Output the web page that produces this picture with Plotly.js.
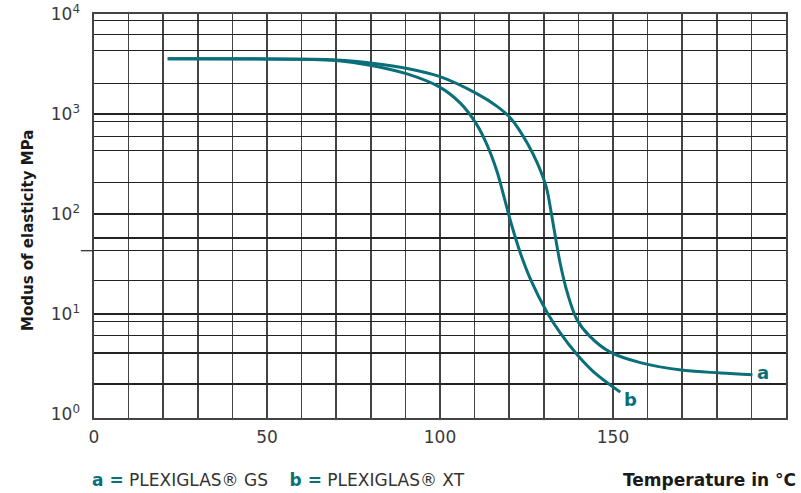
<!DOCTYPE html>
<html>
<head>
<meta charset="utf-8">
<script src="https://cdn.plot.ly/plotly-3.0.1.min.js"></script>
<style>html,body{margin:0;padding:0;background:#fff;}#chart{width:801px;height:493px;}</style>
</head>
<body>
<div id="chart"></div>
<script>
// Curve a = PLEXIGLAS GS
const tempA = [21.3, 60.4, 70, 81, 90.5, 99.8, 110.5, 116.5, 120.6, 125.2, 128.1, 130.7, 132.1, 133, 134.7, 136.8, 139.6, 143.4, 149.2, 157.9, 170.3, 181, 190.3];
const modA  = [3597, 3548, 3491, 3221, 2871, 2388, 1614, 1197, 897, 516, 326, 187.5, 105.4, 69.7, 32.6, 16.3, 8.77, 5.93, 4.15, 3.26, 2.73, 2.57, 2.47];
// Curve b = PLEXIGLAS XT
const tempB = [21.3, 60.4, 70, 81, 90.5, 99.8, 105.8, 110.5, 113.6, 116.5, 118.5, 120.6, 123.2, 126.1, 131, 134.7, 139.6, 144.3, 152.1];
const modB  = [3597, 3548, 3451, 3041, 2529, 1875, 1297, 800, 493, 265, 149, 80, 41, 22.5, 10.3, 6.5, 3.92, 2.65, 1.65];

// Horizontal grid lines (as drawn in the original)
const yGridVals = [1.99, 4.07, 6.11, 8.38, 10, 21.6, 43, 57.5, 100, 208, 432, 597, 843, 1000, 2042, 4325, 6252, 8630, 10000];
const yLabelVals = [1, 10, 100, 1000, 10000];
const yLabelText = ['10<sup>0</sup>', '10<sup>1</sup>', '10<sup>2</sup>', '10<sup>3</sup>', '10<sup>4</sup>'];
const xLabelVals = [0, 50, 100, 150, 200];

const teal = '#0b6f79';
const FONT = '"DejaVu Sans", Verdana, sans-serif';
const lineStyle = {color: teal, width: 3, shape: 'spline', smoothing: 1};
const yRange = [-0.0415, 4.003];

const traces = [
  {x: tempA, y: modA, mode: 'lines', line: lineStyle, hoverinfo: 'skip', showlegend: false},
  {x: tempB, y: modB, mode: 'lines', line: lineStyle, hoverinfo: 'skip', showlegend: false},
  {x: [], y: [], yaxis: 'y2', mode: 'lines', hoverinfo: 'skip', showlegend: false}
];

const layout = {
  width: 801, height: 493,
  margin: {l: 94, r: 15, t: 14, b: 75, pad: 0},
  paper_bgcolor: '#fff', plot_bgcolor: '#fff',
  font: {family: FONT, color: '#333'},
  showlegend: false,
  xaxis: {
    range: [0, 200], tickvals: xLabelVals, ticktext: xLabelVals.map(String),
    showgrid: true, gridcolor: '#444', gridwidth: 1.6,
    minor: {dtick: 10, showgrid: true, gridcolor: '#444', gridwidth: 1.6, ticks: ''},
    ticks: '', showline: true, linecolor: '#444', linewidth: 2, mirror: true,
    zeroline: false, tickfont: {size: 17, color: '#3a3a3a', family: FONT}, ticklabelstandoff: 3
  },
  yaxis: {
    type: 'log', range: yRange,
    tickvals: yGridVals, showticklabels: false,
    showgrid: true, gridcolor: '#222', gridwidth: 1.4,
    ticks: '', showline: true, linecolor: '#444', linewidth: 2, mirror: true,
    zeroline: false
  },
  yaxis2: {
    type: 'log', range: yRange, overlaying: 'y', side: 'left',
    tickvals: yLabelVals, ticktext: yLabelText,
    showgrid: false, showline: false, zeroline: false, ticks: '',
    tickfont: {size: 17, color: '#3a3a3a', family: FONT}, ticklabelstandoff: 13
  },
  shapes: [
    {type: 'line', xref: 'paper', yref: 'y', x0: -0.019, x1: 0, y0: 43, y1: 43, line: {color: '#333', width: 1.3}}
  ],
  annotations: [
    {x: 193.4, y: Math.log10(2.57), xref: 'x', yref: 'y', text: '<b>a</b>', showarrow: false,
     font: {size: 18, color: teal, family: FONT}, xanchor: 'center', yanchor: 'middle'},
    {x: 155, y: Math.log10(1.39), xref: 'x', yref: 'y', text: '<b>b</b>', showarrow: false,
     font: {size: 18, color: teal, family: FONT}, xanchor: 'center', yanchor: 'middle'},
    {x: 0, y: 0.5, xref: 'paper', yref: 'paper', xshift: -66, yshift: -15, textangle: -90,
     text: '<b>Modus of elasticity MPa</b>', showarrow: false,
     font: {size: 15, color: '#1a1a1a', family: FONT}, xanchor: 'center', yanchor: 'middle'},
    {x: 1, y: 0, xref: 'paper', yref: 'paper', xshift: 12, yshift: -62, xanchor: 'right', yanchor: 'middle',
     text: '<b>Temperature in °C</b>', showarrow: false,
     font: {size: 17, color: '#1a1a1a', family: FONT}},
    {x: 0, y: 0, xref: 'paper', yref: 'paper', xshift: -4, yshift: -62, xanchor: 'left', yanchor: 'middle',
     text: '<b><span style="color:' + teal + '">a =</span></b> PLEXIGLAS® GS    <b><span style="color:' + teal + '">b =</span></b> PLEXIGLAS® XT',
     showarrow: false, font: {size: 17, color: '#333', family: FONT}}
  ]
};

Plotly.newPlot('chart', traces, layout, {displayModeBar: false, staticPlot: true});
</script>
</body>
</html>
